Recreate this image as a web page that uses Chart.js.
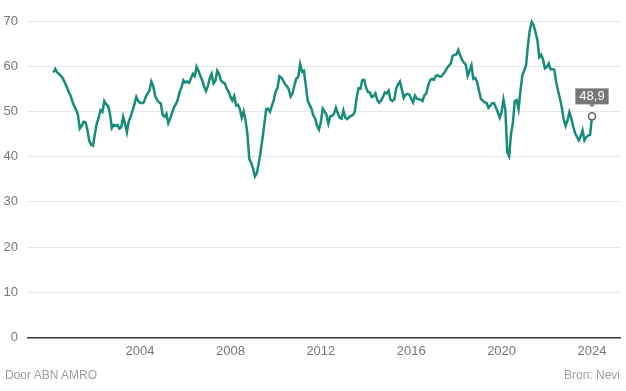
<!DOCTYPE html>
<html>
<head>
<meta charset="utf-8">
<script src="https://cdn.jsdelivr.net/npm/chart.js@4"></script>
<style>
  html, body { margin: 0; padding: 0; background: #fff; }
  #wrap { position: relative; width: 626px; height: 391px; font-family: "Liberation Sans", Arial, sans-serif; }
  #wrap canvas { position: absolute; left: 0; top: 0; }
  .foot { position: absolute; top: 368px; font-size: 12px; color: #a0a0a0; }
  #door { left: 5px; }
  #bron { right: 6px; }
</style>
</head>
<body>
<div id="wrap">
  <canvas id="pmi-chart" width="626" height="391"></canvas>
  <div class="foot" id="door">Door ABN AMRO</div>
  <div class="foot" id="bron">Bron: Nevi</div>
</div>
<script>
// Nevi PMI, monthly, from March 2000 to January 2024
const startYear = 2000;
const startMonth = 3;
const pmi = [
  58.6, 59.4, 58.6, 58.3, 57.8, 57.3, 56.4, 55.5, 54.4, 53.6,             // 2000
  52.3, 51.2, 50.4, 49.2, 46.2, 46.8, 47.7, 47.6, 46.0, 43.5, 42.6, 42.4, // 2001
  45.0, 47.3, 48.6, 50.3, 49.9, 52.3, 51.6, 51.2, 49.5, 46.3, 47.0, 46.8, // 2002
  47.0, 46.2, 46.5, 48.8, 47.3, 45.4, 47.8, 48.8, 50.2, 51.6, 53.2, 52.3, // 2003
  51.9, 51.8, 52.0, 53.2, 54.0, 54.6, 56.6, 55.6, 53.4, 52.6, 52.0, 51.8, // 2004
  49.2, 48.8, 49.5, 47.4, 48.4, 49.7, 50.9, 51.6, 52.6, 54.3, 55.3, 56.9, // 2005
  56.4, 56.6, 56.3, 57.3, 58.3, 57.8, 59.9, 59.0, 57.8, 56.9, 55.5, 54.5, // 2006
  55.6, 57.3, 58.3, 56.2, 56.8, 59.0, 58.2, 56.8, 56.4, 56.2, 55.1, 54.4, // 2007
  53.2, 52.4, 53.4, 51.3, 51.5, 50.5, 48.6, 50.0, 48.0, 45.0, 39.5, 38.6, // 2008
  37.4, 35.6, 36.3, 38.5, 41.0, 44.0, 47.2, 50.5, 50.6, 49.9, 51.2, 52.5, // 2009
  54.4, 55.2, 57.8, 57.5, 56.8, 56.0, 55.6, 54.8, 53.3, 54.0, 55.8, 57.3, // 2010
  57.6, 60.5, 58.8, 59.0, 55.8, 52.4, 51.5, 50.6, 49.1, 48.4, 46.8, 46.0, // 2011
  47.6, 50.6, 50.0, 49.2, 47.3, 48.9, 49.0, 49.5, 50.8, 49.6, 48.6, 48.4, // 2012
  50.2, 48.6, 48.3, 48.7, 49.0, 49.2, 49.9, 53.0, 55.1, 55.0, 56.9, 57.0, // 2013
  55.3, 54.3, 54.2, 53.2, 53.4, 54.0, 52.5, 51.9, 52.4, 53.2, 54.2, 54.0, // 2014
  54.6, 52.6, 52.3, 52.6, 55.0, 56.0, 56.6, 54.9, 53.0, 53.7, 53.9, 53.7, // 2015
  52.8, 52.0, 53.5, 52.8, 52.7, 52.6, 52.3, 53.6, 54.0, 55.7, 56.9, 57.2, // 2016
  57.0, 57.8, 58.0, 57.7, 57.7, 58.3, 58.8, 59.6, 60.1, 60.6, 62.3, 62.5, // 2017
  62.6, 63.6, 62.4, 61.4, 60.8, 60.3, 57.9, 59.0, 60.2, 57.2, 57.4, 56.5, // 2018
  54.6, 52.8, 52.4, 52.0, 51.9, 50.8, 51.3, 51.8, 51.8, 50.8, 49.8, 48.6, // 2019
  49.9, 52.6, 50.3, 41.0, 40.1, 45.0, 47.5, 52.3, 52.5, 50.5, 54.5, 58.0, // 2020
  59.0, 60.2, 64.7, 68.0, 69.8, 69.1, 67.5, 65.8, 62.0, 62.5, 61.5, 59.5, // 2021
  59.8, 60.6, 59.3, 59.3, 59.2, 56.5, 54.5, 52.8, 50.8, 48.2, 46.8, 48.0, // 2022
  49.8, 48.5, 46.7, 45.2, 44.4, 43.6, 44.5, 45.8, 43.6, 44.3, 44.7, 44.8, // 2023
  48.9                                                                    // 2024
];
const xTickYears = [2004, 2008, 2012, 2016, 2020, 2024];
const yTickValues = [0, 10, 20, 30, 40, 50, 60, 70];

const lineColor = "#168c7a";
const tickColor = "#777777";

const points = pmi.map((v, i) => ({ x: startYear + (startMonth - 1 + i) / 12, y: v }));
const lastIndex = points.length - 1;

// grey label box with a small pointer above the last point
const lastValueLabel = {
  id: "lastValueLabel",
  afterDatasetsDraw(chart) {
    const pt = chart.getDatasetMeta(0).data[lastIndex];
    const ctx = chart.ctx;
    const text = pmi[lastIndex].toFixed(1).replace(".", ",");
    ctx.save();
    ctx.font = '13px "Liberation Sans", Arial, sans-serif';
    const w = ctx.measureText(text).width + 8;
    const h = 16;
    const bottom = pt.y - 12;
    ctx.fillStyle = "#777777";
    ctx.fillRect(pt.x - w / 2, bottom - h, w, h);
    ctx.beginPath();
    ctx.moveTo(pt.x - 3, bottom);
    ctx.lineTo(pt.x + 3, bottom);
    ctx.lineTo(pt.x, bottom + 3);
    ctx.closePath();
    ctx.fill();
    ctx.fillStyle = "#ffffff";
    ctx.textAlign = "center";
    ctx.textBaseline = "middle";
    ctx.fillText(text, pt.x, bottom - h / 2 + 0.5);
    ctx.restore();
  },
};

const ctx = document.getElementById("pmi-chart").getContext("2d");

const myChart = new Chart(ctx, {
  type: "line",
  data: {
    datasets: [
      {
        label: "Nevi PMI",
        data: points,
        borderColor: lineColor,
        borderWidth: 2.5,
        tension: 0,
        pointRadius: (c) => (c.dataIndex === lastIndex ? 3.5 : 0),
        pointBackgroundColor: "#ffffff",
        pointBorderColor: "#666666",
        pointBorderWidth: 1.5,
        clip: false,
      },
    ],
  },
  options: {
    responsive: false,
    animation: false,
    layout: {
      padding: { left: 0, right: 6, top: 21, bottom: 26 },
    },
    plugins: {
      legend: { display: false },
      tooltip: { enabled: false },
    },
    scales: {
      x: {
        type: "linear",
        min: 1999.04,
        max: 2025.24,
        afterBuildTicks: (scale) => {
          scale.ticks = xTickYears.map((v) => ({ value: v }));
        },
        ticks: {
          color: tickColor,
          font: { family: '"Liberation Sans", Arial, sans-serif', size: 13 },
          padding: 6,
          maxRotation: 0,
          callback: (v) => String(v),
        },
        grid: { display: false, drawTicks: false },
        border: { display: true, color: "#333333", width: 1.5 },
      },
      y: {
        min: 0,
        max: 70,
        afterBuildTicks: (scale) => {
          scale.ticks = yTickValues.map((v) => ({ value: v }));
        },
        afterFit: (scale) => {
          scale.width = 28;
        },
        ticks: {
          color: tickColor,
          font: { family: '"Liberation Sans", Arial, sans-serif', size: 13 },
          padding: 10,
        },
        grid: { color: "#e6e6e6", lineWidth: 1, drawTicks: false },
        border: { display: false },
      },
    },
  },
  plugins: [lastValueLabel],
});
</script>
</body>
</html>
